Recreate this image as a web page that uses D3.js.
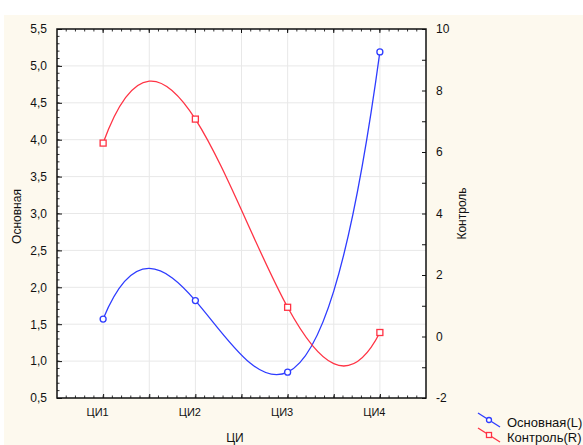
<!DOCTYPE html>
<html>
<head>
<meta charset="utf-8">
<script src="https://cdn.jsdelivr.net/npm/d3@7"></script>
<style>
  body { margin: 0; background: #ffffff; overflow: hidden; }
  svg { display: block; font-family: 'Liberation Sans', Arial, sans-serif; }
</style>
</head>
<body>
<div id="wrapper"></div>
<script>
// categories and the two series (left and right axis)
const categories = ['ЦИ1', 'ЦИ2', 'ЦИ3', 'ЦИ4']
const mainValues = [1.57, 1.82, 0.85, 5.19]
const controlValues = [6.29, 7.07, 0.95, 0.13]
const leftTicks = [0.5, 1.0, 1.5, 2.0, 2.5, 3.0, 3.5, 4.0, 4.5, 5.0, 5.5]
const rightTicks = [-2, 0, 2, 4, 6, 8, 10]
const seriesNames = ['Основная(L)', 'Контроль(R)']

const dimensions = {
  width: 583,
  height: 445,
  margin: { top: 29, right: 157, bottom: 47, left: 57 },
}
dimensions.boundedWidth =
  dimensions.width - dimensions.margin.left - dimensions.margin.right
dimensions.boundedHeight =
  dimensions.height - dimensions.margin.top - dimensions.margin.bottom

const blue = '#2e3cff'
const red = '#ff3344'
const commaFormat = (d) => d3.format('.1f')(d).replace('.', ',')

// x is a linear scale over category index so the frame extends half a step each side
const xScale = d3
  .scaleLinear()
  .domain([0.5, categories.length + 0.5])
  .range([0, dimensions.boundedWidth])
const yLeft = d3
  .scaleLinear()
  .domain([0.5, 5.5])
  .range([dimensions.boundedHeight, 0])
const yRight = d3
  .scaleLinear()
  .domain([-2, 10])
  .range([dimensions.boundedHeight, 0])

// cubic curve through 4 evenly spaced points (Hermite with polynomial tangents)
function CubicFit(context) {
  this._context = context
}
CubicFit.prototype = {
  areaStart() {},
  areaEnd() {},
  lineStart() {
    this._x = []
    this._y = []
  },
  point(x, y) {
    this._x.push(+x)
    this._y.push(+y)
  },
  lineEnd() {
    const x = this._x
    const y = this._y
    const n = x.length
    if (!n) return
    this._context.moveTo(x[0], y[0])
    if (n !== 4) {
      for (let i = 1; i < n; i++) this._context.lineTo(x[i], y[i])
      return
    }
    const d = [
      (-11 * y[0] + 18 * y[1] - 9 * y[2] + 2 * y[3]) / 6,
      (-2 * y[0] - 3 * y[1] + 6 * y[2] - y[3]) / 6,
      (y[0] - 6 * y[1] + 3 * y[2] + 2 * y[3]) / 6,
      (-2 * y[0] + 9 * y[1] - 18 * y[2] + 11 * y[3]) / 6,
    ]
    for (let i = 0; i < 3; i++) {
      const dx = (x[i + 1] - x[i]) / 3
      this._context.bezierCurveTo(
        x[i] + dx, y[i] + d[i] / 3,
        x[i + 1] - dx, y[i + 1] - d[i + 1] / 3,
        x[i + 1], y[i + 1]
      )
    }
  },
}
const cubicFit = (context) => new CubicFit(context)

const wrapper = d3
  .select('#wrapper')
  .append('svg')
  .attr('width', dimensions.width)
  .attr('height', dimensions.height)

// cream panel behind the chart
wrapper
  .append('rect')
  .attr('x', 4)
  .attr('y', 15)
  .attr('width', dimensions.width - 4)
  .attr('height', dimensions.height - 15)
  .attr('fill', '#fdf9ee')

const bounds = wrapper
  .append('g')
  .attr('transform', `translate(${dimensions.margin.left}, ${dimensions.margin.top})`)

bounds
  .append('rect')
  .attr('width', dimensions.boundedWidth)
  .attr('height', dimensions.boundedHeight)
  .attr('fill', '#ffffff')

// grid
const xGrid = d3.range(1, categories.length + 0.5, 0.5)
bounds
  .append('g')
  .selectAll('line')
  .data(xGrid)
  .join('line')
  .attr('x1', (d) => xScale(d))
  .attr('x2', (d) => xScale(d))
  .attr('y1', 0)
  .attr('y2', dimensions.boundedHeight)
  .attr('stroke', '#e8e8e8')
bounds
  .append('g')
  .selectAll('line')
  .data(leftTicks.slice(1, -1))
  .join('line')
  .attr('x1', 0)
  .attr('x2', dimensions.boundedWidth)
  .attr('y1', (d) => yLeft(d))
  .attr('y2', (d) => yLeft(d))
  .attr('stroke', '#e8e8e8')

// left axis
const leftAxis = bounds
  .append('g')
  .call(
    d3.axisLeft(yLeft).tickValues(leftTicks).tickFormat(commaFormat).tickSizeInner(-5).tickSizeOuter(0).tickPadding(10)
  )
leftAxis.select('.domain').remove()
leftAxis.selectAll('text').attr('font-size', 12).attr('fill', '#111')
leftAxis.selectAll('line').attr('stroke', '#111')
bounds
  .append('g')
  .selectAll('line')
  .data(d3.range(0.6, 5.5, 0.1))
  .join('line')
  .attr('x1', 0)
  .attr('x2', 2.5)
  .attr('y1', (d) => yLeft(d))
  .attr('y2', (d) => yLeft(d))
  .attr('stroke', '#333')

// right axis
const rightAxis = bounds
  .append('g')
  .attr('transform', `translate(${dimensions.boundedWidth}, 0)`)
  .call(
    d3.axisRight(yRight).tickValues(d3.range(-2, 10.5, 1)).tickFormat((d) => (rightTicks.includes(d) ? d : '')).tickSizeInner(-4).tickSizeOuter(0).tickPadding(10)
  )
rightAxis.select('.domain').remove()
rightAxis.selectAll('text').attr('font-size', 12).attr('fill', '#111')
rightAxis.selectAll('line').attr('stroke', '#111')

// bottom and top axes with category labels
const bottomAxis = bounds
  .append('g')
  .attr('transform', `translate(0, ${dimensions.boundedHeight})`)
  .call(
    d3.axisBottom(xScale).tickValues(xGrid).tickFormat((d) => (Number.isInteger(d) ? categories[d - 1] : '')).tickSizeInner(-4).tickSizeOuter(0).tickPadding(10)
  )
bottomAxis.select('.domain').remove()
bottomAxis.selectAll('text').attr('font-size', 11).attr('fill', '#111').attr('dx', -6)
bottomAxis.selectAll('line').attr('stroke', '#111')
const minorX = d3.range(0.6, categories.length + 0.5, 0.1)
;[0, dimensions.boundedHeight].forEach((y0) => {
  const dir = y0 === 0 ? 1 : -1
  bounds
    .append('g')
    .selectAll('line')
    .data(minorX)
    .join('line')
    .attr('x1', (d) => xScale(d))
    .attr('x2', (d) => xScale(d))
    .attr('y1', y0)
    .attr('y2', y0 + dir * 2.5)
    .attr('stroke', '#333')
})
bounds
  .append('g')
  .selectAll('line')
  .data(xGrid)
  .join('line')
  .attr('x1', (d) => xScale(d))
  .attr('x2', (d) => xScale(d))
  .attr('y1', 0)
  .attr('y2', 4)
  .attr('stroke', '#111')

// frame
bounds
  .append('rect')
  .attr('width', dimensions.boundedWidth)
  .attr('height', dimensions.boundedHeight)
  .attr('fill', 'none')
  .attr('stroke', '#111')
  .attr('stroke-width', 1.5)

// axis titles
wrapper
  .append('text')
  .attr('transform', `translate(21, ${dimensions.margin.top + dimensions.boundedHeight / 2 + 3}) rotate(-90)`)
  .attr('text-anchor', 'middle')
  .attr('font-size', 12)
  .attr('fill', '#111')
  .text('Основная')
wrapper
  .append('text')
  .attr('transform', `translate(466, ${dimensions.margin.top + dimensions.boundedHeight / 2}) rotate(-90)`)
  .attr('text-anchor', 'middle')
  .attr('font-size', 12)
  .attr('fill', '#111')
  .text('Контроль')
wrapper
  .append('text')
  .attr('x', 235)
  .attr('y', 442)
  .attr('text-anchor', 'middle')
  .attr('font-size', 12)
  .attr('fill', '#111')
  .text('ЦИ')

// series
const series = [
  { name: seriesNames[0], values: mainValues, y: yLeft, color: blue, shape: 'circle' },
  { name: seriesNames[1], values: controlValues, y: yRight, color: red, shape: 'square' },
]
series.forEach((s) => {
  const line = d3
    .line()
    .x((d, i) => xScale(i + 1))
    .y((d) => s.y(d))
    .curve(cubicFit)
  bounds
    .append('path')
    .attr('d', line(s.values))
    .attr('fill', 'none')
    .attr('stroke', s.color)
    .attr('stroke-width', 1.3)
  const marks = bounds.append('g')
  if (s.shape === 'circle') {
    marks
      .selectAll('circle')
      .data(s.values)
      .join('circle')
      .attr('cx', (d, i) => xScale(i + 1))
      .attr('cy', (d) => s.y(d))
      .attr('r', 3)
      .attr('fill', '#fff')
      .attr('stroke', s.color)
      .attr('stroke-width', 1.3)
  } else {
    marks
      .selectAll('rect')
      .data(s.values)
      .join('rect')
      .attr('x', (d, i) => xScale(i + 1) - 3)
      .attr('y', (d) => s.y(d) - 3)
      .attr('width', 6)
      .attr('height', 6)
      .attr('fill', '#fff')
      .attr('stroke', s.color)
      .attr('stroke-width', 1.3)
  }
})

// legend
const legend = wrapper.append('g').attr('transform', 'translate(478, 413)')
series.forEach((s, i) => {
  const g = legend.append('g').attr('transform', `translate(0, ${i * 15})`)
  g.append('line')
    .attr('x1', 0)
    .attr('y1', 0)
    .attr('x2', 22)
    .attr('y2', 14)
    .attr('stroke', s.color)
    .attr('stroke-width', 1.3)
  if (s.shape === 'circle') {
    g.append('circle').attr('cx', 11).attr('cy', 7).attr('r', 2.5).attr('fill', '#fff').attr('stroke', s.color).attr('stroke-width', 1.3)
  } else {
    g.append('rect').attr('x', 8.5).attr('y', 4.5).attr('width', 5).attr('height', 5).attr('fill', '#fff').attr('stroke', s.color).attr('stroke-width', 1.3)
  }
  g.append('text')
    .attr('x', 29)
    .attr('y', 14)
    .attr('font-size', 13)
    .attr('fill', '#111')
    .text(s.name)
})
</script>
</body>
</html>
